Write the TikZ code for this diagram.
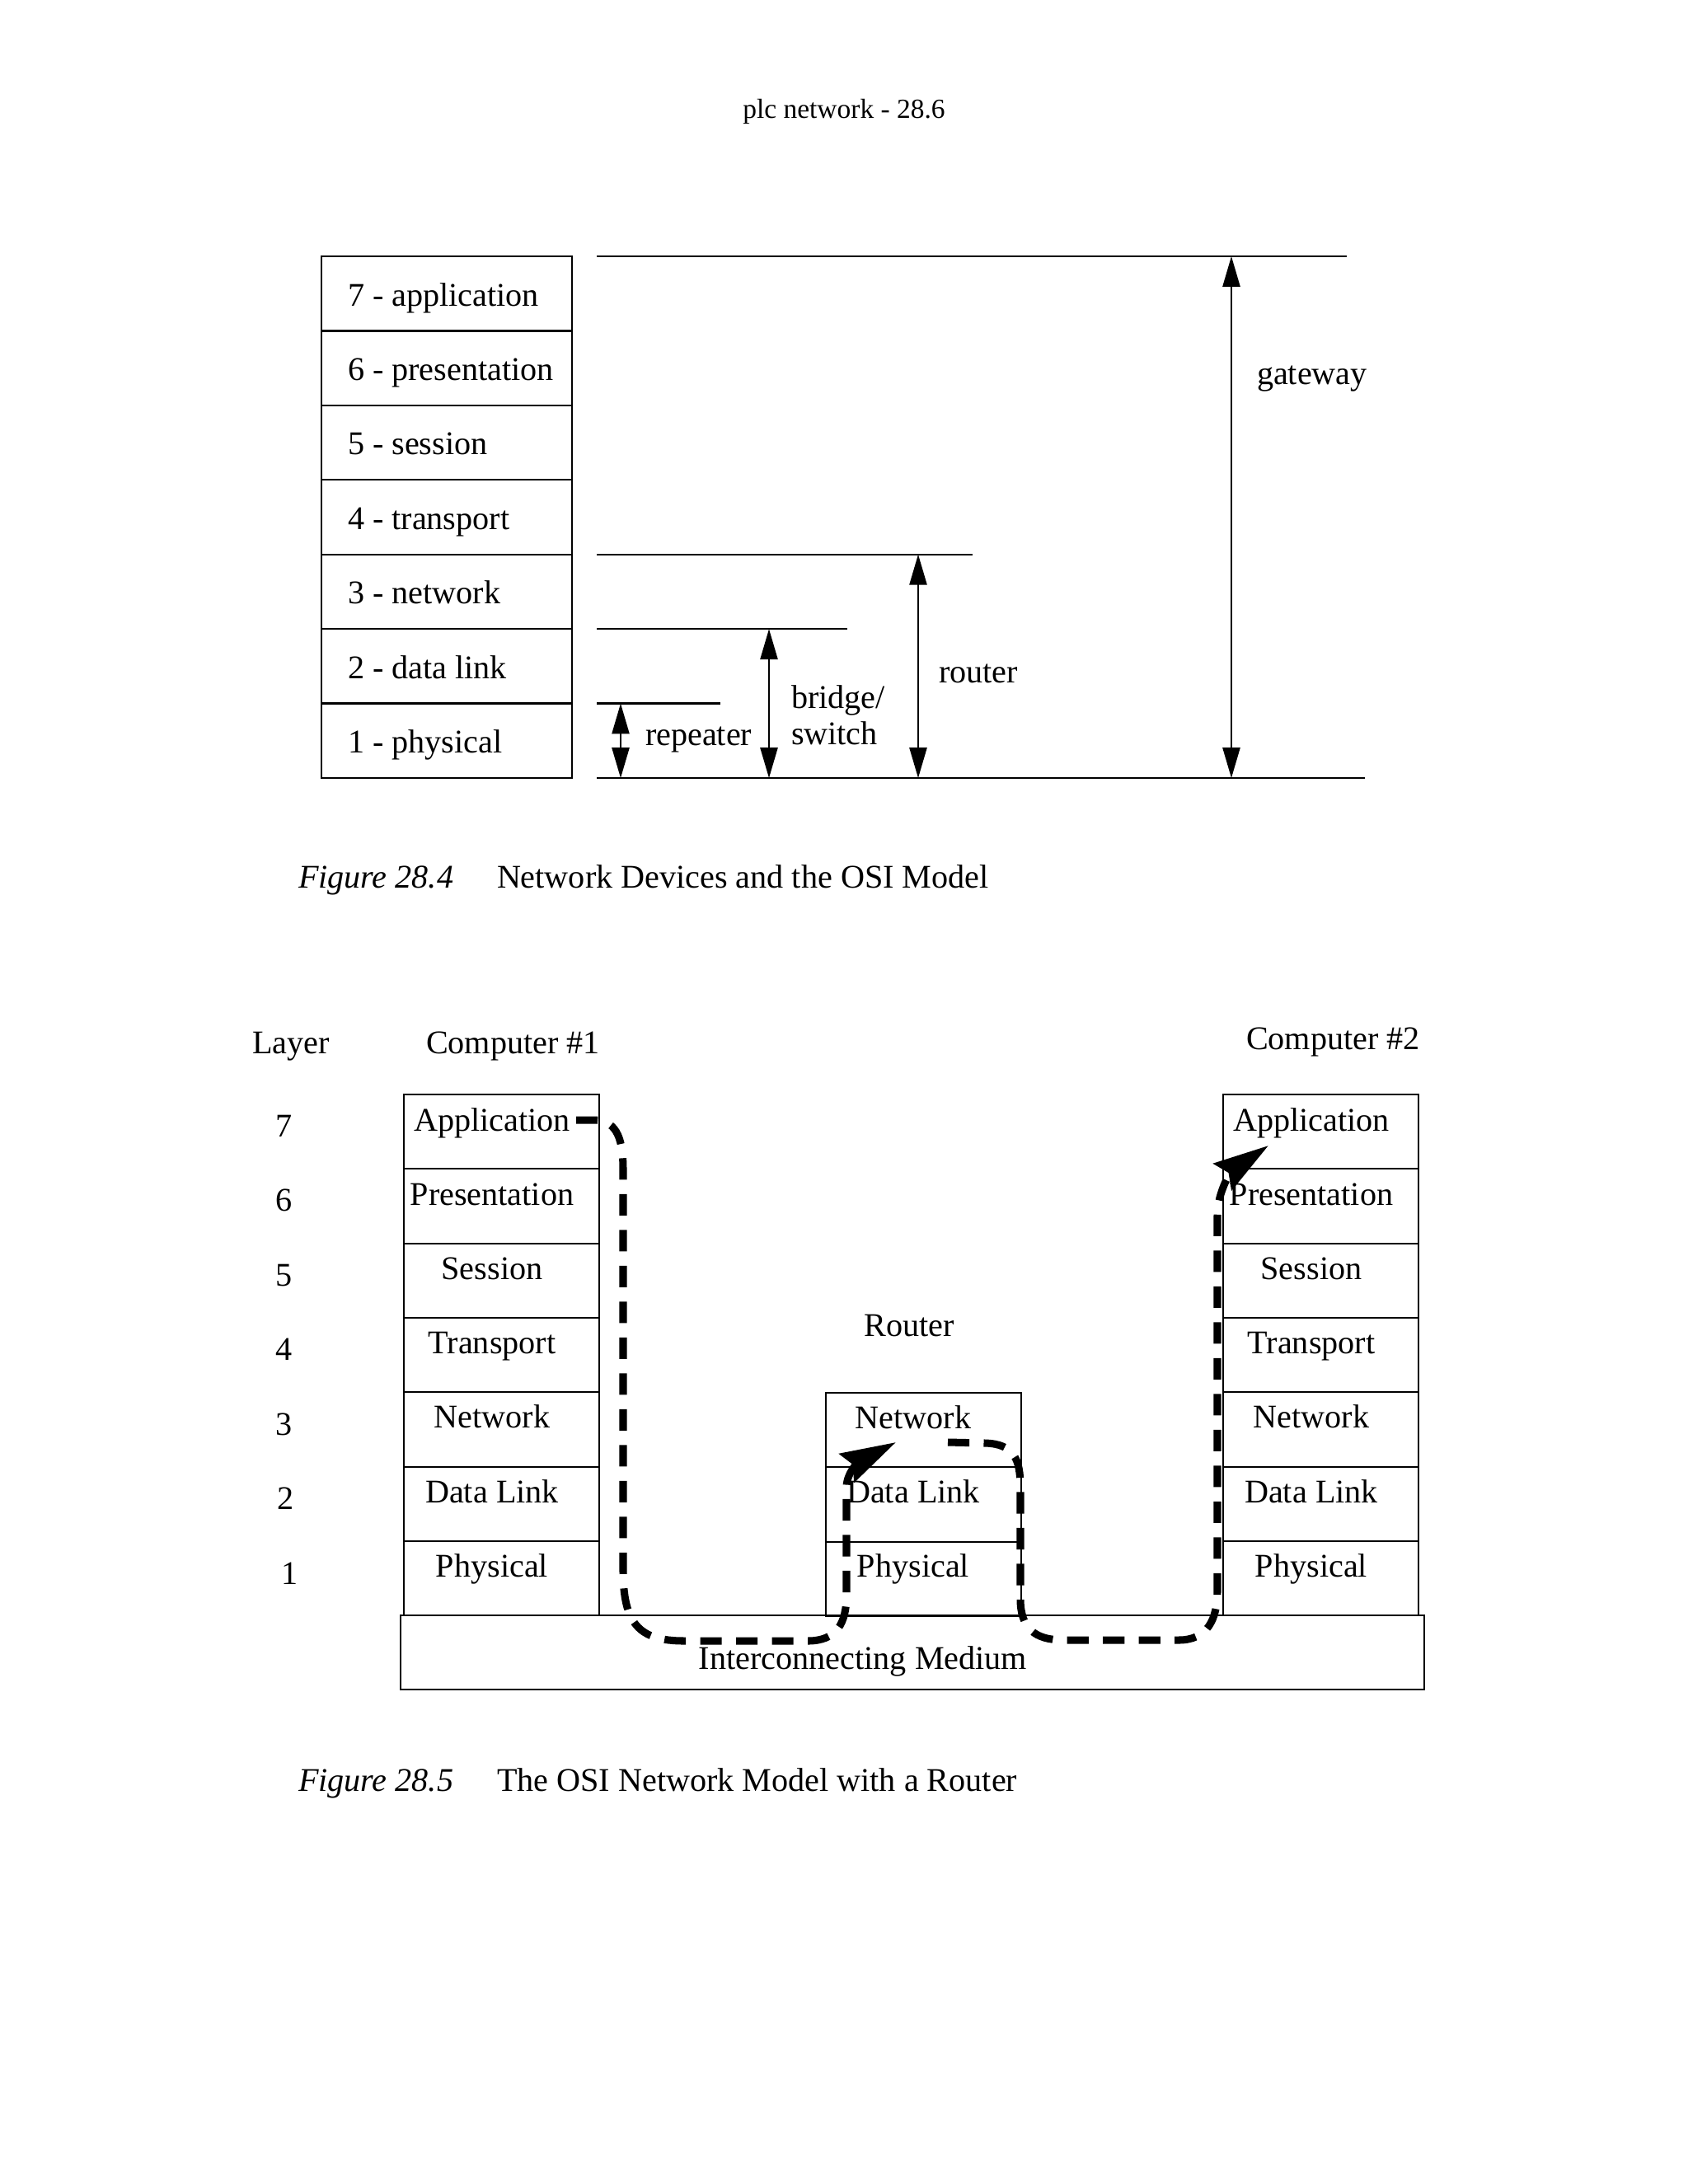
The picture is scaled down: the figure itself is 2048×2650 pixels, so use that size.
\documentclass[tikz,border=0pt]{standalone}
\usepackage{fontspec}
\setmainfont{Liberation Serif}
\usetikzlibrary{arrows.meta,calc}
\begin{document}
\begin{tikzpicture}[x=0.29883pt, y=-0.29883pt,
  every node/.style={inner sep=0pt, outer sep=0pt, font=\fontsize{12pt}{14.4pt}\selectfont},
  layerbox/.style={draw, line width=0.7pt, minimum width=90.84pt, minimum height=27.02pt},
  stackbox/.style={draw, line width=0.6pt, minimum width=70.82pt, minimum height=26.98pt},
  levelline/.style={line width=0.7pt},
  devarrow/.style={line width=0.6pt, {Triangle[length=11pt,width=6.3pt]}-{Triangle[length=11pt,width=6.3pt]}},
  flow/.style={line width=2.7pt, dash pattern=on 7.8pt off 5.2pt, -{Stealth[length=20pt,width=11.5pt,inset=2.5pt]}},
  txt/.style={anchor=base},
  txtw/.style={anchor=base west}]

\useasboundingbox (0,0) rectangle (2048,2650);

% header
\node[txt, font=\fontsize{10pt}{12pt}\selectfont] (hdr) at (1024,143) {plc network - 28.6};

% ---------- Figure 28.4 ----------
\foreach \t [count=\i] in {7 - application, 6 - presentation, 5 - session, 4 - transport, 3 - network, 2 - data link, 1 - physical} {
  \node[layerbox] (L\i) at (542,{311+45.215+(\i-1)*90.43}) {};
  \node[txtw] (Lt\i) at (422,{371+(\i-1)*90.43}) {\t};
}

\coordinate (gwA) at (724,311);   \coordinate (gwB) at (1634,311);
\coordinate (rtA) at (724,672.7); \coordinate (rtB) at (1180,672.7);
\coordinate (brA) at (724,763.2); \coordinate (brB) at (1028,763.2);
\coordinate (rpA) at (724,853.6); \coordinate (rpB) at (874,853.6);
\coordinate (btA) at (724,944);   \coordinate (btB) at (1656,944);
\draw[levelline] (gwA) -- (gwB);
\draw[levelline] (rtA) -- (rtB);
\draw[levelline] (brA) -- (brB);
\draw[levelline] (rpA) -- (rpB);
\draw[levelline] (btA) -- (btB);

\coordinate (rp1) at (753,853.6);  \coordinate (rp2) at (753,944);
\coordinate (br1) at (933,763.2);  \coordinate (br2) at (933,944);
\coordinate (rt1) at (1114,672.7); \coordinate (rt2) at (1114,944);
\coordinate (gw1) at (1494,311);   \coordinate (gw2) at (1494,944);
\draw[devarrow] (rp1) -- (rp2);
\draw[devarrow] (br1) -- (br2);
\draw[devarrow] (rt1) -- (rt2);
\draw[devarrow] (gw1) -- (gw2);

\node[txtw] (gwl) at (1525,466) {gateway};
\node[txtw] (rtl) at (1139,828) {router};
\node[txtw] (brl1) at (960,859) {bridge/};
\node[txtw] (brl2) at (960,903) {switch};
\node[txtw] (rpl) at (783,904) {repeater};

\node[txtw, font=\fontsize{12pt}{14.4pt}\selectfont\itshape] (cap1a) at (362,1077) {Figure 28.4};
\node[txtw] (cap1b) at (603,1077) {Network Devices and the OSI Model};

% ---------- Figure 28.5 ----------
\node[txtw] (layerhd) at (306,1278) {Layer};
\node[txtw] (c1hd) at (517,1278) {Computer \#1};
\node[txtw] (c2hd) at (1512,1273) {Computer \#2};

\foreach \d/\xx [count=\i] in {7/345,6/345,5/345,4/345,3/345,2/347,1/352} {
  \node[txt] (num\d) at (\xx,{1379+(\i-1)*90.5}) {\d};
}

\foreach \t [count=\i] in {Application,Presentation,Session,Transport,Network,Data Link,Physical} {
  \node[stackbox] (A\i) at (608.5,{1328+45.15+(\i-1)*90.3}) {};
  \node[txt] (At\i) at (597,{1372+(\i-1)*90.2}) {\t};
  \node[stackbox] (B\i) at (1602,{1328+45.15+(\i-1)*90.3}) {};
  \node[txt] (Bt\i) at (1591,{1372+(\i-1)*90.2}) {\t};
}

\foreach \t [count=\i] in {Network,Data Link,Physical} {
  \node[stackbox] (R\i) at (1120.5,{1690+45.15+(\i-1)*90.3}) {};
  \node[txt] (Rt\i) at (1108,{1733+(\i-1)*90}) {\t};
}
\node[txt] (rtrhd) at (1103,1621) {Router};

\node[draw, line width=0.6pt, minimum width=371.15pt, minimum height=26.9pt] (med) at (1107,2005) {};
\node[txt] (medt) at (1047,2025) {Interconnecting Medium};

% data flow
\coordinate (f1s) at (699,1359);  \coordinate (f1e) at (1087,1750);
\coordinate (f2s) at (1150,1750); \coordinate (f2e) at (1539,1390);
\draw[flow] (f1s) -- (722,1359) .. controls (750,1360) and (756,1385) .. (756,1420)
  -- (756,1905) .. controls (756,1970) and (775,1991) .. (830,1991)
  -- (980,1991) .. controls (1015,1991) and (1027,1970) .. (1027,1935)
  -- (1027,1805) .. controls (1027,1785) and (1045,1772) .. (f1e);
\draw[flow] (f2s) -- (1195,1751) .. controls (1230,1752) and (1238,1770) .. (1238,1805)
  -- (1238,1940) .. controls (1238,1975) and (1255,1990) .. (1290,1990)
  -- (1430,1990) .. controls (1465,1990) and (1477,1965) .. (1477,1930)
  -- (1477,1475) .. controls (1477,1445) and (1495,1420) .. (f2e);

\node[txtw, font=\fontsize{12pt}{14.4pt}\selectfont\itshape] (cap2a) at (362,2173) {Figure 28.5};
\node[txtw] (cap2b) at (603,2173) {The OSI Network Model with a Router};
\end{tikzpicture}
\end{document}
